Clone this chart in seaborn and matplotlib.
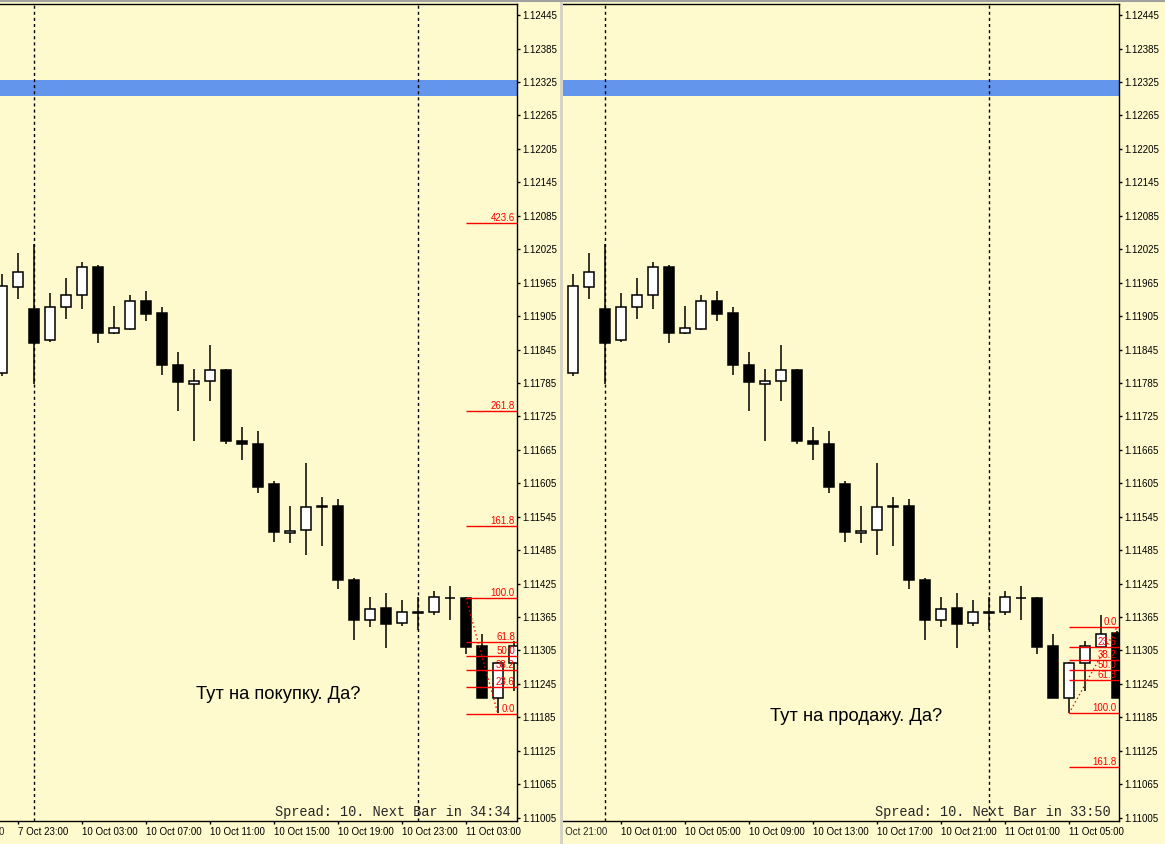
import numpy as np
import pandas as pd
import seaborn as sns
import matplotlib.pyplot as plt
from matplotlib.lines import Line2D
from matplotlib.transforms import Bbox, TransformedBbox, offset_copy

# hourly EURUSD bars, 7 Oct 21:00 .. 11 Oct 08:00
times = ["7 Oct 21:00", "7 Oct 22:00", "7 Oct 23:00",
         "10 Oct 00:00", "10 Oct 01:00", "10 Oct 02:00", "10 Oct 03:00", "10 Oct 04:00", "10 Oct 05:00",
         "10 Oct 06:00", "10 Oct 07:00", "10 Oct 08:00", "10 Oct 09:00", "10 Oct 10:00", "10 Oct 11:00",
         "10 Oct 12:00", "10 Oct 13:00", "10 Oct 14:00", "10 Oct 15:00", "10 Oct 16:00", "10 Oct 17:00",
         "10 Oct 18:00", "10 Oct 19:00", "10 Oct 20:00", "10 Oct 21:00", "10 Oct 22:00", "10 Oct 23:00",
         "11 Oct 00:00", "11 Oct 01:00", "11 Oct 02:00", "11 Oct 03:00", "11 Oct 04:00", "11 Oct 05:00",
         "11 Oct 06:00", "11 Oct 07:00", "11 Oct 08:00"]
opens = [1.11712, 1.11803, 1.11958, 1.11917, 1.11862, 1.11921, 1.11942, 1.11993, 1.11874,
         1.11881, 1.11932, 1.11911, 1.11817, 1.11784, 1.11788, 1.11808, 1.11681, 1.11676,
         1.11603, 1.11516, 1.11521, 1.11563, 1.11565, 1.11432, 1.11359, 1.11381, 1.11354,
         1.11373, 1.11374, 1.11399, 1.11399, 1.11313, 1.11220, 1.11283, 1.11312, 1.11337]
highs = [1.11805, 1.11981, 1.12019, 1.12034, 1.11946, 1.11973, 1.12002, 1.11997, 1.11923,
         1.11942, 1.11950, 1.11921, 1.11840, 1.11810, 1.11853, 1.11810, 1.11706, 1.11698,
         1.11609, 1.11565, 1.11642, 1.11581, 1.11577, 1.11435, 1.11401, 1.11409, 1.11395,
         1.11401, 1.11412, 1.11421, 1.11401, 1.11334, 1.11285, 1.11322, 1.11369, 1.11340]
lows = [1.11700, 1.11798, 1.11936, 1.11783, 1.11858, 1.11900, 1.11917, 1.11856, 1.11872,
        1.11880, 1.11897, 1.11799, 1.11735, 1.11681, 1.11753, 1.11676, 1.11646, 1.11588,
        1.11499, 1.11497, 1.11477, 1.11492, 1.11416, 1.11324, 1.11348, 1.11309, 1.11349,
        1.11341, 1.11369, 1.11360, 1.11298, 1.11220, 1.11193, 1.11233, 1.11312, 1.11220]
closes = [1.11799, 1.11959, 1.11984, 1.11857, 1.11921, 1.11942, 1.11993, 1.11874, 1.11883,
          1.11932, 1.11909, 1.11818, 1.11786, 1.11788, 1.11808, 1.11681, 1.11675, 1.11599,
          1.11517, 1.11519, 1.11563, 1.11565, 1.11431, 1.11360, 1.11379, 1.11352, 1.11374,
          1.11374, 1.11401, 1.11400, 1.11312, 1.11220, 1.11283, 1.11313, 1.11335, 1.11220]

price_ticks = [1.11005, 1.11065, 1.11125, 1.11185, 1.11245, 1.11305, 1.11365, 1.11425, 1.11485,
               1.11545, 1.11605, 1.11665, 1.11725, 1.11785, 1.11845, 1.11905, 1.11965, 1.12025,
               1.12085, 1.12145, 1.12205, 1.12265, 1.12325, 1.12385, 1.12445]
level_band = (1.12300, 1.12328)   # blue horizontal line
separators = ["10 Oct 00:00", "11 Oct 00:00"]

# fibo on the left chart (buy idea) and right chart (sell idea)
fib_left_levels = [0.0, 23.6, 38.2, 50.0, 61.8, 100.0, 161.8, 261.8, 423.6]
fib_left_p0, fib_left_p100 = 1.11191, 1.11399
fib_left_bars = ["11 Oct 03:00", "11 Oct 05:00"]
fib_right_levels = [0.0, 23.6, 38.2, 50.0, 61.8, 100.0, 161.8]
fib_right_p0, fib_right_p100 = 1.11347, 1.11192
fib_right_bars = ["11 Oct 05:00", "11 Oct 08:00"]

left_ticks = ["7 Oct 23:00", "10 Oct 03:00", "10 Oct 07:00", "10 Oct 11:00", "10 Oct 15:00",
              "10 Oct 19:00", "10 Oct 23:00", "11 Oct 03:00"]
right_ticks = ["10 Oct 01:00", "10 Oct 05:00", "10 Oct 09:00", "10 Oct 13:00", "10 Oct 17:00",
               "10 Oct 21:00", "11 Oct 01:00", "11 Oct 05:00"]

bg = "#FFFACD"
sns.set_theme(style="ticks", rc={"axes.facecolor": bg, "figure.facecolor": bg,
                                 "axes.edgecolor": "black", "axes.linewidth": 1.0,
                                 "xtick.color": "black", "ytick.color": "black"})
plt.rcParams["font.family"] = ["Liberation Sans", "DejaVu Sans"]

df = pd.DataFrame({"time": times, "open": opens, "high": highs, "low": lows, "close": closes})
df["x"] = np.arange(len(df))
pos = {t: i for i, t in enumerate(times)}

W, H = 1165, 844
fig = plt.figure(figsize=(W / 100, H / 100), dpi=100)
ax_l = fig.add_axes([0, 23 / H, 517 / W, 817 / H])
ax_r = fig.add_axes([563 / W, 23 / H, 556 / W, 817 / H])


def draw_candles(ax, d):
    ax.vlines(d["x"], d["low"], d["high"], color="black", lw=1.1, zorder=3)
    up = d["close"] >= d["open"]
    bottom = np.minimum(d["open"], d["close"])
    height = (d["close"] - d["open"]).abs()
    ax.bar(d["x"], height, bottom=bottom, width=0.62,
           color=np.where(up, "white", "black"), edgecolor="black", linewidth=1.1, zorder=4)


def draw_fib(ax, levels, p0, p100, bars, xmax):
    a, b = pos[bars[0]], pos[bars[1]]
    start = min(a, b)
    for lv in levels:
        price = p0 + (p100 - p0) * lv / 100.0
        ax.hlines(price, start, xmax, color="red", lw=1.0, zorder=5)
        ax.text(0.996, price, f"{lv:.1f}", color="red", fontsize=7, ha="right", va="bottom",
                transform=ax.get_yaxis_transform(), zorder=6)
    trend = pd.DataFrame({"x": [a, b], "y": [p100, p0]})
    sns.lineplot(data=trend, x="x", y="y", ax=ax, color="red", lw=1.0,
                 linestyle=(0, (1, 2)), zorder=6)


def style_axis(ax, xlim, ticks):
    ax.set_xlim(*xlim)
    ax.set_ylim(1.10999, 1.12465)
    ax.axhspan(*level_band, color="#6495ED", lw=0, zorder=1)
    for s in separators:
        ax.axvline(pos[s], color="black", lw=1.0, linestyle=(0, (2.2, 2.2)), zorder=2)
    ax.yaxis.tick_right()
    ax.set_yticks(price_ticks)
    ax.set_yticklabels([f"{v:.5f}" for v in price_ticks])
    ax.set_xticks([pos[t] for t in ticks])
    ax.set_xticklabels(ticks)
    for lbl in ax.get_xticklabels():
        lbl.set_horizontalalignment("left")
    ax.tick_params(axis="both", direction="out", length=2.5, width=1, labelsize=7, pad=1.5)
    ax.spines["left"].set_visible(False)
    ax.set_xlabel("")
    ax.set_ylabel("")


# left chart
draw_candles(ax_l, df.iloc[:34])
draw_fib(ax_l, fib_left_levels, fib_left_p0, fib_left_p100, fib_left_bars, 33.19)
style_axis(ax_l, (0.875, 33.19), left_ticks)
ax_l.text(0.538, 0.155, "Тут на покупку. Да?", transform=ax_l.transAxes, fontsize=13.2,
          ha="center", va="center", color="black")
ax_l.text(0.988, 0.011, "Spread: 10. Next Bar in 34:34", transform=ax_l.transAxes,
          fontsize=9.8, family="Liberation Mono", ha="right", va="center", zorder=7)
ax_l.text(pos["7 Oct 23:00"] - 4, 0, "7 Oct 19:00", fontsize=7, ha="left", va="top",
          transform=offset_copy(ax_l.get_xaxis_transform(), fig=fig, y=-4, units="points"))

# right chart
draw_candles(ax_r, df)
draw_fib(ax_r, fib_right_levels, fib_right_p0, fib_right_p100, fib_right_bars, 35.125)
style_axis(ax_r, (0.375, 35.125), right_ticks)
ax_r.text(0.527, 0.1285, "Тут на продажу. Да?", transform=ax_r.transAxes, fontsize=13.2,
          ha="center", va="center", color="black")
ax_r.text(0.9856, 0.011, "Spread: 10. Next Bar in 33:50", transform=ax_r.transAxes,
          fontsize=9.8, family="Liberation Mono", ha="right", va="center", zorder=7)
t0 = ax_r.text(pos["7 Oct 21:00"], 0, "7 Oct 21:00", fontsize=7, ha="left", va="top",
               transform=offset_copy(ax_r.get_xaxis_transform(), fig=fig, y=-4, units="points"))
t0.set_clip_path(None)
t0.set_clip_box(TransformedBbox(Bbox.from_extents(563 / W, 0, 1, 1), fig.transFigure))
t0.set_clip_on(True)

# window frame bits
fig.add_artist(Line2D([561 / W, 561 / W], [0, 1], transform=fig.transFigure, color="#D4D0C8", lw=2))
fig.add_artist(Line2D([0, 1], [1 - 1 / H, 1 - 1 / H], transform=fig.transFigure, color="#A0A0A0", lw=1.5))

fig.savefig("out.png", dpi=100, facecolor=bg)
